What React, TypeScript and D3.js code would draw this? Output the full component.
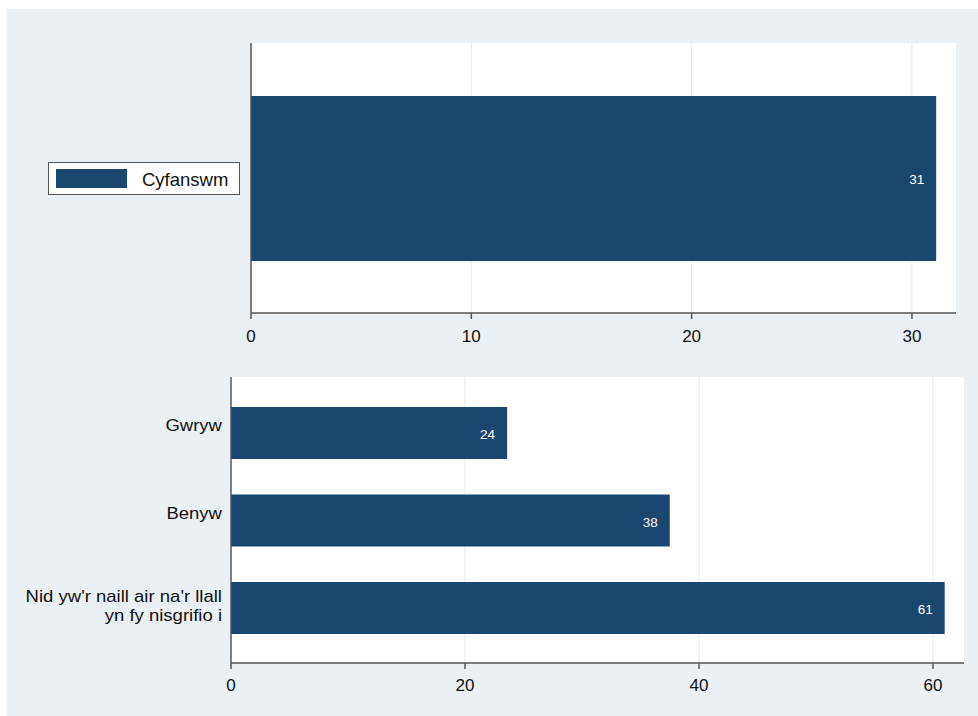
import React from "react";
import * as d3 from "d3";

const topCategories = ["Cyfanswm"];
const topValues = [31.1];
const topLabels = ["31"];
const topTicks = [0, 10, 20, 30];

const bottomCategories = ["Gwryw", "Benyw", "Nid yw'r naill air na'r llall|yn fy nisgrifio i"];
const bottomValues = [23.6, 37.5, 61.0];
const bottomLabels = ["24", "38", "61"];
const bottomTicks = [0, 20, 40, 60];

const BAR = "#1a476f";
const BG = "#eaf0f3";
const GRID = "#e6eef1";
const AXIS = "#555555";
const FONT = "Liberation Sans, Arial, sans-serif";

export default function App() {
  // top panel
  const tx = d3.scaleLinear().domain([0, 32]).range([251, 956]);
  const tTop = 43, tBot = 313;

  // bottom panel
  const bx = d3.scaleLinear().domain([0, 62.65]).range([231, 964]);
  const bTop = 377, bBot = 663;
  const by = d3.scalePoint().domain(bottomCategories).range([433, 608]);
  const barH = 52;

  return (
    <svg width={978} height={716} style={{ position: "absolute", left: 0, top: 0 }} fontFamily={FONT}>
      <rect x={0} y={0} width={978} height={716} fill="#ffffff" />
      <rect x={7} y={9} width={971} height={707} fill={BG} />

      {/* Top panel */}
      <rect x={251} y={tTop} width={956 - 251} height={tBot - tTop} fill="#ffffff" />
      {topTicks.filter((t) => t > 0).map((t) => (
        <line key={"tg" + t} x1={tx(t)} x2={tx(t)} y1={tTop} y2={tBot} stroke={GRID} strokeWidth={1.2} />
      ))}
      {topCategories.map((c, i) => (
        <g key={c}>
          <rect x={tx(0)} y={96} width={tx(topValues[i]) - tx(0)} height={165} fill={BAR} />
          <text x={tx(topValues[i]) - 12} y={184} fill="#ffffff" fontSize={13.5} textAnchor="end">
            {topLabels[i]}
          </text>
        </g>
      ))}
      <line x1={251} x2={251} y1={tTop} y2={tBot} stroke={AXIS} strokeWidth={1.5} />
      <line x1={251} x2={956} y1={tBot} y2={tBot} stroke={AXIS} strokeWidth={1.5} />
      {topTicks.map((t) => (
        <g key={"tt" + t}>
          <line x1={tx(t)} x2={tx(t)} y1={tBot} y2={tBot + 6} stroke={AXIS} strokeWidth={1.5} />
          <text x={tx(t)} y={342} fontSize={17} textAnchor="middle" fill="#111">
            {t}
          </text>
        </g>
      ))}

      {/* Legend */}
      <rect x={48.5} y={162.5} width={191} height={32} fill="#ffffff" stroke={AXIS} strokeWidth={1} />
      <rect x={56} y={169} width={71} height={19} fill={BAR} />
      <text x={142} y={186} fontSize={18.5} fill="#111">
        {topCategories[0]}
      </text>

      {/* Bottom panel */}
      <rect x={231} y={bTop} width={964 - 231} height={bBot - bTop} fill="#ffffff" />
      {bottomTicks.filter((t) => t > 0).map((t) => (
        <line key={"bg" + t} x1={bx(t)} x2={bx(t)} y1={bTop} y2={bBot} stroke={GRID} strokeWidth={1.2} />
      ))}
      {bottomCategories.map((c, i) => {
        const cy = by(c) as number;
        const lines = c.split("|");
        return (
          <g key={c}>
            <rect x={bx(0)} y={cy - barH / 2} width={bx(bottomValues[i]) - bx(0)} height={barH} fill={BAR} />
            <text x={bx(bottomValues[i]) - 12} y={cy + 6} fill="#ffffff" fontSize={13.5} textAnchor="end">
              {bottomLabels[i]}
            </text>
            {lines.map((l, j) => (
              <text
                key={j}
                transform={`translate(222,${lines.length > 1 ? cy - 6 + j * 19 : cy - 2}) scale(1.13,1)`}
                fontSize={16.4}
                textAnchor="end"
                fill="#111"
              >
                {l}
              </text>
            ))}
          </g>
        );
      })}
      <line x1={231} x2={231} y1={bTop} y2={bBot} stroke={AXIS} strokeWidth={1.5} />
      <line x1={231} x2={964} y1={bBot} y2={bBot} stroke={AXIS} strokeWidth={1.5} />
      {bottomTicks.map((t) => (
        <g key={"bt" + t}>
          <line x1={bx(t)} x2={bx(t)} y1={bBot} y2={bBot + 6} stroke={AXIS} strokeWidth={1.5} />
          <text x={bx(t)} y={691} fontSize={17} textAnchor="middle" fill="#111">
            {t}
          </text>
        </g>
      ))}
    </svg>
  );
}
